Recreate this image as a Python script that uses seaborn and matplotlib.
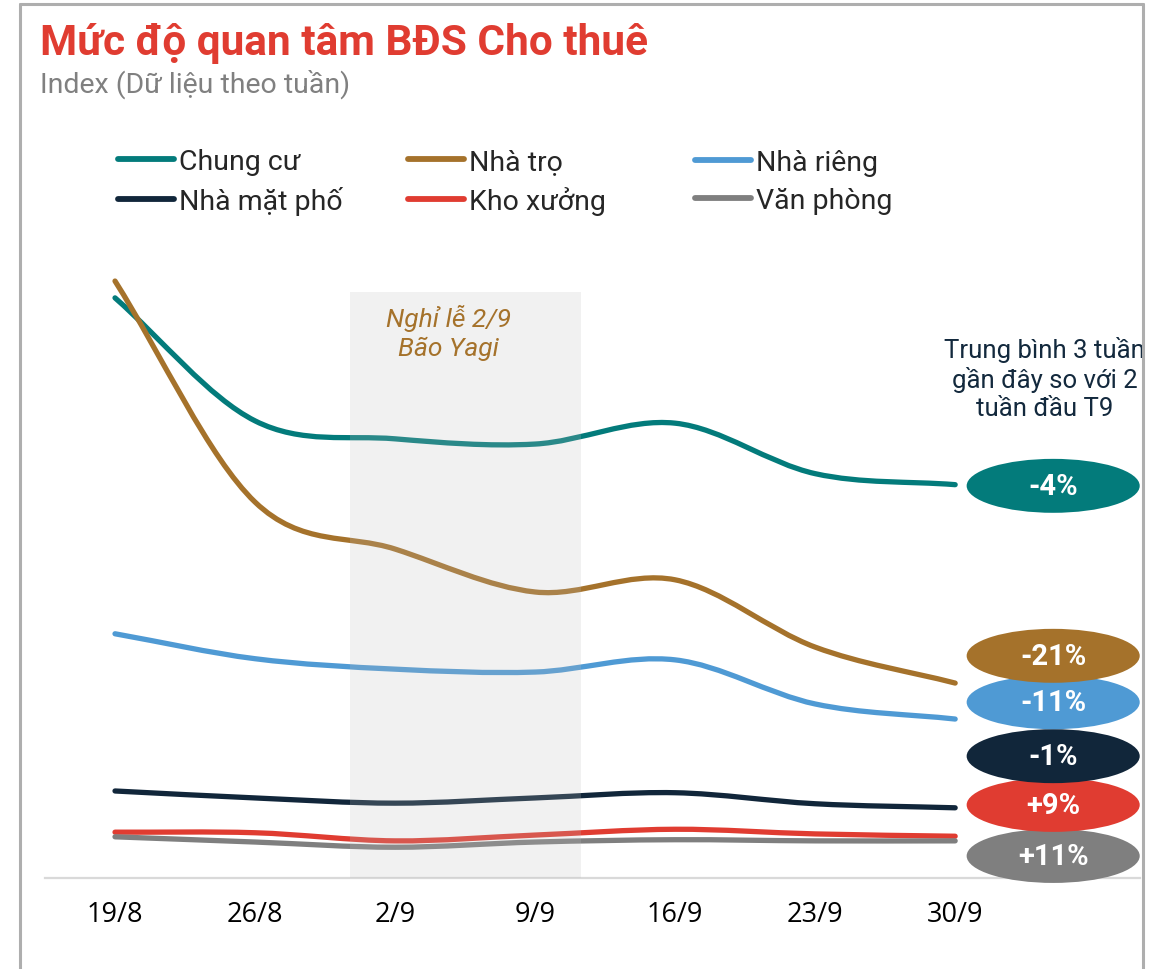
import numpy as np
import pandas as pd
import seaborn as sns
import matplotlib.pyplot as plt
from matplotlib.path import Path
from matplotlib.patches import PathPatch, Ellipse, Rectangle
from matplotlib.lines import Line2D

# Dữ liệu (index theo tuần)
weeks = ['19/8', '26/8', '2/9', '9/9', '16/9', '23/9', '30/9']
chung_cu = [100.0, 78.8, 75.7, 74.8, 78.4, 69.7, 67.8]
nha_tro = [102.9, 64.8, 56.7, 49.3, 51.4, 39.8, 33.6]
nha_rieng = [42.1, 37.8, 36.0, 35.5, 37.6, 30.0, 27.4]
nha_mat_pho = [15.0, 13.8, 12.9, 13.8, 14.7, 12.8, 12.1]
kho_xuong = [7.9, 7.8, 6.4, 7.4, 8.4, 7.6, 7.2]
van_phong = [7.1, 6.2, 5.3, 6.2, 6.6, 6.4, 6.4]
series_names = ['Chung cư', 'Nhà trọ', 'Nhà riêng', 'Nhà mặt phố', 'Kho xưởng', 'Văn phòng']
changes = ['-4%', '-21%', '-11%', '-1%', '+9%', '+11%']

colors = ['#037B7B', '#A5722B', '#4F9AD4', '#11263A', '#E03C31', '#7F7F7F']
# vị trí các nhãn hình elip (chỉ để bố cục)
badge_y = [67.6, 38.3, 30.3, 21.0, 12.6, 3.8]

df = pd.DataFrame({'week': weeks, 'Chung cư': chung_cu, 'Nhà trọ': nha_tro,
                   'Nhà riêng': nha_rieng, 'Nhà mặt phố': nha_mat_pho,
                   'Kho xưởng': kho_xuong, 'Văn phòng': van_phong})
df['pos'] = np.arange(len(weeks))

sns.set_theme(style='white')
plt.rcParams['font.family'] = ['Roboto', 'DejaVu Sans']


def smooth_path(x, y):
    # đường cong mượt qua các điểm dữ liệu (Catmull-Rom -> Bezier)
    pts = np.column_stack([x, y]).astype(float)
    tang = np.zeros_like(pts)
    tang[1:-1] = (pts[2:] - pts[:-2]) / 2
    tang[0] = pts[1] - pts[0]
    tang[-1] = pts[-1] - pts[-2]
    verts = [pts[0]]
    codes = [Path.MOVETO]
    for i in range(len(pts) - 1):
        verts += [pts[i] + tang[i] / 3, pts[i + 1] - tang[i + 1] / 3, pts[i + 1]]
        codes += [Path.CURVE4] * 3
    return Path(verts, codes)


W, H = 1166, 970
fig = plt.figure(figsize=(W / 100, H / 100), dpi=100)
ax = fig.add_axes([45 / W, 1 - 879 / H, 1095 / W, (879 - 260) / H])

for name, col in zip(series_names, colors):
    patch = PathPatch(smooth_path(df['pos'], df[name]), fill=False, edgecolor=col,
                      lw=3.8, capstyle='round', joinstyle='round', zorder=3)
    ax.add_patch(patch)

ax.set_xlim(-0.5, 7.32)
ax.set_ylim(0, 106.7)

# vùng tô: nghỉ lễ & bão
ax.add_patch(Rectangle((1.68, 0), 1.65, 101.0, facecolor='#BEBEBE', alpha=0.21,
                       edgecolor='none', zorder=5))
ax.text(2.38, 99.0, 'Nghỉ lễ 2/9\nBão Yagi', ha='center', va='top', style='italic',
        fontsize=19, color='#A5722B', linespacing=1.25, zorder=6)

# nhãn hình elip
for i, (lab, col, yb) in enumerate(zip(changes, colors, badge_y)):
    e = Ellipse((6.70, yb), 1.236, 9.3, facecolor=col, edgecolor='none',
                zorder=20 - i, clip_on=False)
    ax.add_patch(e)
    ax.text(6.70, yb, lab, ha='center', va='center', color='white', fontsize=21,
            fontweight='bold', zorder=20 - i, clip_on=False)

ax.text(6.64, 93.5, 'Trung bình 3 tuần\ngần đây so với 2\ntuần đầu T9', ha='center',
        va='top', fontsize=18.5, color='#13293D', linespacing=1.2)

ax.set_xticks(df['pos'])
ax.set_xticklabels(weeks, fontsize=19.5, family=['Open Sans', 'DejaVu Sans'], color='black')
ax.set_yticks([])
ax.tick_params(axis='x', length=0, pad=16)
for s in ['left', 'top', 'right']:
    ax.spines[s].set_visible(False)
ax.spines['bottom'].set_color('#D9D9D9')
ax.spines['bottom'].set_linewidth(1.6)
ax.set_xlabel('')
ax.set_ylabel('')

# chú thích: 3 cột
order = [[0, 3], [1, 4], [2, 5]]
xs = [118 / W, 408 / W, 695 / W]
for cols, x0 in zip(order, xs):
    handles = [Line2D([0], [0], color=colors[k], lw=4.2, solid_capstyle='round') for k in cols]
    leg = fig.legend(handles, [series_names[k] for k in cols], loc='center left',
                     bbox_to_anchor=(x0, 1 - 182.5 / H), frameon=False, fontsize=20.5,
                     handlelength=1.95, handletextpad=0.2, labelspacing=0.38,
                     borderpad=0, borderaxespad=0)

# tiêu đề
fig.text(40 / W, 1 - 55 / H, 'Mức độ quan tâm BĐS Cho thuê', fontsize=30.5,
         fontweight='bold', color='#E03C31', va='baseline')
fig.text(40 / W, 1 - 93 / H, 'Index (Dữ liệu theo tuần)', fontsize=20.5,
         color='#808080', va='baseline')

# khung viền
for xy in [((20 / W, 20 / W), (1 - 5 / H, 0)), ((20 / W, 1143 / W), (1 - 5 / H, 1 - 5 / H)),
           ((1143 / W, 1143 / W), (1 - 5 / H, 0))]:
    fig.add_artist(Line2D(xy[0], xy[1], color='#AEAEAE', lw=2.2))

fig.savefig('out.png', dpi=100)
